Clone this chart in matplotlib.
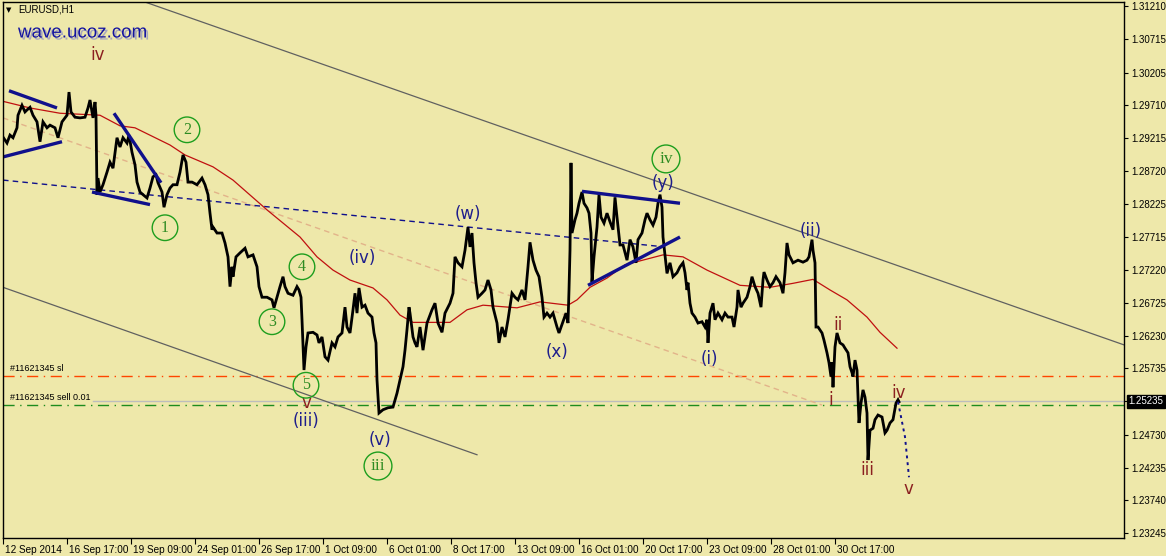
import matplotlib
matplotlib.use("Agg")
import matplotlib.pyplot as plt
import matplotlib.patheffects as pe
import matplotlib.transforms as mtrans

plt.rcParams["font.family"] = ["Liberation Sans", "DejaVu Sans"]

# --- price path (H1 bars, index from 12 Sep 2014) ---
bars = [0, 4, 7, 10, 14, 15, 19, 22, 24, 27, 30, 34, 37, 40, 44, 47, 52, 55, 59, 62,
        64, 66, 68, 72, 77, 82, 85, 87, 90, 92, 93, 94, 95, 97, 100, 104, 107, 110, 114, 117,
        120, 124, 126, 129, 132, 134, 137, 140, 144, 147, 150, 153, 155, 159, 161, 164, 167, 170, 174, 177,
        180, 183, 185, 189, 194, 199, 202, 205, 207, 209, 210, 214, 219, 222, 225, 227, 229, 230, 233, 237,
        242, 245, 250, 254, 256, 259, 264, 269, 271, 274, 277, 280, 282, 285, 290, 294, 296, 298, 299, 301,
        303, 305, 310, 314, 316, 319, 322, 325, 329, 332, 335, 339, 342, 344, 347, 350, 352, 354, 356, 359,
        362, 365, 369, 371, 373, 374, 376, 380, 385, 390, 394, 397, 400, 402, 404, 406, 407, 410, 412, 414,
        417, 420, 424, 429, 432, 435, 439, 442, 447, 450, 452, 455, 459, 462, 465, 467, 469, 471, 473, 475,
        479, 482, 485, 488, 490, 494, 496, 499, 502, 505, 509, 512, 515, 519, 522, 525, 527, 530, 533, 536,
        539, 541, 544, 547, 550, 554, 556, 560, 563, 565, 566, 567, 568, 569, 572, 574, 576, 579, 581, 584,
        586, 588, 589, 591, 594, 596, 598, 601, 604, 607, 610, 612, 614, 617, 620, 624, 627, 630, 633, 635,
        639, 642, 644, 647, 650, 653, 655, 657, 659, 660, 662, 664, 667, 670, 674, 677, 680, 682, 684, 685,
        687, 689, 692, 695, 699, 702, 704, 705, 707, 710, 712, 715, 719, 722, 725, 729, 731, 734, 735, 738,
        740, 744, 747, 749, 752, 755, 758, 760, 761, 764, 767, 770, 773, 777, 780, 782, 784, 786, 790, 795,
        800, 804, 806, 809, 810, 812, 813, 815, 819, 821, 824, 826, 828, 829, 830, 832, 834, 837, 840, 842,
        845, 847, 849, 850, 852, 854, 855, 856, 858, 860, 862, 864, 865, 867, 870, 872, 875, 879, 882, 884,
        887, 890, 893, 895, 896]
price = [1.2923, 1.2914, 1.2926, 1.2922, 1.2937, 1.2956, 1.2971, 1.2961, 1.2964, 1.2968, 1.2956, 1.2946, 1.2916, 1.2946, 1.2937, 1.2941, 1.2937, 1.2922, 1.2946, 1.2952,
         1.2956, 1.2991, 1.2961, 1.2953, 1.2952, 1.2953, 1.2967, 1.2979, 1.2952, 1.2976, 1.2956, 1.2836, 1.2861, 1.2840, 1.2851, 1.2870, 1.2885, 1.2876, 1.2922, 1.2908,
         1.2922, 1.2914, 1.2926, 1.2900, 1.2881, 1.2855, 1.2840, 1.2836, 1.2831, 1.2846, 1.2863, 1.2866, 1.2854, 1.2840, 1.2817, 1.2836, 1.2846, 1.2851, 1.2851, 1.2870,
         1.2896, 1.2885, 1.2855, 1.2855, 1.2851, 1.2861, 1.2851, 1.2836, 1.2808, 1.2783, 1.2787, 1.2778, 1.2778, 1.2763, 1.2742, 1.2697, 1.2727, 1.2712, 1.2742, 1.2748,
         1.2755, 1.2742, 1.2745, 1.2727, 1.2697, 1.2681, 1.2681, 1.2677, 1.2665, 1.2681, 1.2697, 1.2712, 1.2697, 1.2687, 1.2684, 1.2697, 1.2692, 1.2681, 1.2647, 1.2571,
         1.2606, 1.2627, 1.2628, 1.2624, 1.2612, 1.2621, 1.2591, 1.2586, 1.2612, 1.2606, 1.2621, 1.2627, 1.2666, 1.2636, 1.2627, 1.2662, 1.2687, 1.2657, 1.2695, 1.2666,
         1.2669, 1.2657, 1.2651, 1.2627, 1.2612, 1.2556, 1.2506, 1.2511, 1.2514, 1.2515, 1.2536, 1.2556, 1.2576, 1.2601, 1.2632, 1.2666, 1.2657, 1.2621, 1.2612, 1.2606,
         1.2636, 1.2601, 1.2642, 1.2662, 1.2672, 1.2642, 1.2628, 1.2657, 1.2672, 1.2687, 1.2742, 1.2733, 1.2727, 1.2752, 1.2787, 1.2757, 1.2778, 1.2733, 1.2703, 1.2681,
         1.2687, 1.2692, 1.2707, 1.2692, 1.2666, 1.2642, 1.2612, 1.2636, 1.2621, 1.2647, 1.2687, 1.2681, 1.2677, 1.2692, 1.2677, 1.2727, 1.2764, 1.2737, 1.2722, 1.2712,
         1.2681, 1.2651, 1.2657, 1.2651, 1.2657, 1.2636, 1.2627, 1.2644, 1.2657, 1.2642, 1.2692, 1.2752, 1.2884, 1.2778, 1.2798, 1.2808, 1.2823, 1.2840, 1.2823, 1.2816,
         1.2808, 1.2778, 1.2704, 1.2742, 1.2787, 1.2836, 1.2802, 1.2793, 1.2808, 1.2795, 1.2783, 1.2832, 1.2802, 1.2760, 1.2760, 1.2737, 1.2768, 1.2757, 1.2733, 1.2768,
         1.2778, 1.2798, 1.2808, 1.2798, 1.2790, 1.2802, 1.2823, 1.2836, 1.2817, 1.2772, 1.2745, 1.2717, 1.2733, 1.2712, 1.2718, 1.2727, 1.2733, 1.2718, 1.2692, 1.2703,
         1.2672, 1.2657, 1.2651, 1.2642, 1.2644, 1.2636, 1.2647, 1.2612, 1.2657, 1.2672, 1.2647, 1.2657, 1.2647, 1.2657, 1.2651, 1.2651, 1.2636, 1.2666, 1.2692, 1.2666,
         1.2672, 1.2681, 1.2697, 1.2712, 1.2697, 1.2687, 1.2666, 1.2707, 1.2719, 1.2707, 1.2697, 1.2703, 1.2712, 1.2703, 1.2687, 1.2718, 1.2763, 1.2745, 1.2733, 1.2737,
         1.2734, 1.2737, 1.2742, 1.2768, 1.2752, 1.2733, 1.2636, 1.2636, 1.2627, 1.2616, 1.2597, 1.2582, 1.2561, 1.2583, 1.2545, 1.2606, 1.2627, 1.2612, 1.2609, 1.2604,
         1.2597, 1.2576, 1.2567, 1.2561, 1.2586, 1.2571, 1.2530, 1.2491, 1.2521, 1.2541, 1.2530, 1.2506, 1.2435, 1.2480, 1.2483, 1.2496, 1.2503, 1.2500, 1.2476, 1.2480,
         1.2491, 1.2496, 1.2521, 1.2526, 1.2523]

# moving average (red)
ma_bars = [0, 27, 57, 97, 117, 132, 167, 182, 210, 230, 264, 297, 314, 330, 347, 370, 384, 397, 410, 447,
           464, 480, 514, 537, 565, 574, 587, 604, 622, 660, 680, 704, 737, 767, 790, 810, 827, 844, 864, 877, 894]
ma_price = [1.2977, 1.2967, 1.2959, 1.2956, 1.2940, 1.2937, 1.2911, 1.2896, 1.2878, 1.2858, 1.2813, 1.2772, 1.2742,
            1.2722, 1.2707, 1.2695, 1.2677, 1.2654, 1.2643, 1.2643, 1.2662, 1.2669, 1.2665, 1.2674, 1.2669, 1.2677,
            1.2696, 1.2710, 1.2730, 1.2745, 1.2742, 1.2722, 1.2699, 1.2696, 1.2702, 1.2708, 1.2692, 1.2677, 1.2651,
            1.2628, 1.2604]

y_ticks = [1.31210, 1.30715, 1.30205, 1.29710, 1.29215, 1.28720, 1.28225, 1.27715, 1.27220,
           1.26725, 1.26230, 1.25735, 1.25235, 1.24730, 1.24235, 1.23740, 1.23245]
x_labels = ["12 Sep 2014", "16 Sep 17:00", "19 Sep 09:00", "24 Sep 01:00", "26 Sep 17:00",
            "1 Oct 09:00", "6 Oct 01:00", "8 Oct 17:00", "13 Oct 09:00", "16 Oct 01:00",
            "20 Oct 17:00", "23 Oct 09:00", "28 Oct 01:00", "30 Oct 17:00"]
bars_per_label = 64

bid = 1.25235
sl_level = 1.2562
sell_level = 1.2518

# trend lines: (bar0, price0, bar1, price1)
channel_top = (144, 1.3126, 1121, 1.2609)
channel_bot = (0, 1.2696, 474, 1.2443)
navy_dashed = (0, 1.2858, 662, 1.2757)
peach_dashed = (0, 1.2952, 819, 1.2518)
blue_lines = [(6, 1.2993, 54, 1.2967), (0, 1.2893, 59, 1.2916),
              (111, 1.2959, 158, 1.2854), (89, 1.2840, 147, 1.2821),
              (579, 1.2841, 677, 1.2823), (585, 1.2699, 677, 1.2772)]
proj_bars = [895, 902, 906]
proj_price = [1.2523, 1.2470, 1.2409]

# wave labels
blue_waves = [("(iii)", 303, 1.2494), ("(iv)", 359, 1.2740), ("(v)", 377, 1.2465),
              ("(w)", 465, 1.2807), ("(x)", 554, 1.2598), ("(y)", 660, 1.2854),
              ("(i)", 706, 1.2588), ("(ii)", 808, 1.2781)]
red_waves = [("iv", 95, 1.3047), ("v", 303, 1.2521), ("i", 828, 1.2526), ("ii", 835, 1.2639),
             ("iii", 864, 1.2420), ("iv", 896, 1.2536), ("v", 905, 1.2391)]
circled = [("1", 162, 1.2786), ("2", 184, 1.2934), ("3", 269, 1.2644), ("4", 299, 1.2727),
           ("5", 303, 1.2548), ("iii", 375, 1.2426), ("iv", 663, 1.2890)]

BG = "#EEE8AA"
BLUE = "#1E1E8C"
RED = "#8B2020"
GREEN = "#1E9E1E"
NAVY = "#10108C"

fig = plt.figure(figsize=(11.66, 5.56), dpi=100, facecolor=BG)
ax = fig.add_axes([3 / 1166, 18 / 556, 1121 / 1166, 536 / 556], facecolor=BG)
ax.set_xlim(0, 1121)
ax.set_ylim(1.23172, 1.31271)

# order levels
ax.axhline(sl_level, color="#FF4500", lw=1, ls=(0, (8, 4, 1, 4)))
ax.axhline(sell_level, color="#1E8C1E", lw=1, ls=(0, (8, 4, 1, 4)))
ax.plot([90, 1121], [bid, bid], color="#BDBDBD", lw=1)


def seg(l, **kw):
    ax.plot([l[0], l[2]], [l[1], l[3]], **kw)


seg(channel_top, color="#606060", lw=0.9)
seg(channel_bot, color="#606060", lw=0.9)
seg(peach_dashed, color="#E2B38A", lw=1, ls=(0, (4, 3)))
seg(navy_dashed, color=NAVY, lw=1, ls=(0, (4, 3)))

ax.plot(ma_bars, ma_price, color="#C01010", lw=0.9)
ax.plot(bars, price, color="black", lw=2, solid_joinstyle="miter")

for l in blue_lines:
    seg(l, color=NAVY, lw=2.4, solid_capstyle="butt")
ax.plot(proj_bars, proj_price, color=NAVY, lw=1.4, ls=(0, (1.5, 2)))

for t, b, p in blue_waves:
    ax.text(b, p, t, color=BLUE, fontsize=12, ha="center", va="center",
            family=["DejaVu Sans"])
for t, b, p in red_waves:
    ax.text(b, p, t, color=RED, fontsize=12, ha="center", va="center",
            family=["DejaVu Sans"])
for t, b, p in circled:
    roman = t.startswith("i")
    ax.text(b, p, t, color="#2E8B22", fontsize=12.5 if roman else 11.5,
            family=["Liberation Serif"], ha="center", va="center",
            bbox=dict(boxstyle="circle,pad=%s" % (0.34 if roman else 0.3),
                      fc="none", ec=GREEN, lw=1))

ax.text(7, sl_level + 0.0004, "#11621345 sl", fontsize=6.5, va="bottom", ha="left")
ax.text(7, sell_level + 0.0004, "#11621345 sell 0.01", fontsize=6.5, va="bottom", ha="left")

# header texts
fig.text(9 / 1166, 1 - 10 / 556, "\u25bc", fontsize=5, va="center", ha="center",
         family=["DejaVu Sans"])
fig.text(18 / 1166, 1 - 10 / 556, "EURUSD,H1", fontsize=7, va="center", ha="left")
fig.text(18 / 1166, 1 - 33 / 556, "wave.ucoz.com", fontsize=13.5, color="#1414A0",
         va="center", ha="left",
         path_effects=[pe.SimplePatchShadow(offset=(1.5, -1.5), shadow_rgbFace="#A0A0C0", alpha=0.9),
                       pe.Normal()])

# axes
for s in ax.spines.values():
    s.set_color("black")
    s.set_linewidth(1)
ax.yaxis.tick_right()
ax.set_yticks(y_ticks)
ax.set_yticklabels(["" if v == bid else f"{v:.5f}" for v in y_ticks], fontsize=7)
ax.tick_params(axis="y", direction="out", length=3, pad=2, width=0.8)
ax.set_xticks([i * bars_per_label for i in range(len(x_labels))])
ax.set_xticklabels(x_labels, fontsize=7.2, ha="left")
ax.tick_params(axis="x", direction="out", length=4, pad=1, width=0.8)
off = mtrans.ScaledTranslation(2 / 100, 0, fig.dpi_scale_trans)
for lab in ax.get_xticklabels():
    lab.set_transform(lab.get_transform() + off)

# current price tag
tr = mtrans.blended_transform_factory(ax.transAxes, ax.transData)
ax.text(1.004, bid, f"{bid:.5f}", transform=tr, fontsize=7, color="white", va="center",
        ha="left", bbox=dict(boxstyle="square,pad=0.2", fc="black", ec="black"), zorder=10,
        clip_on=False)

fig.savefig("out.png", dpi=100, facecolor=BG)
